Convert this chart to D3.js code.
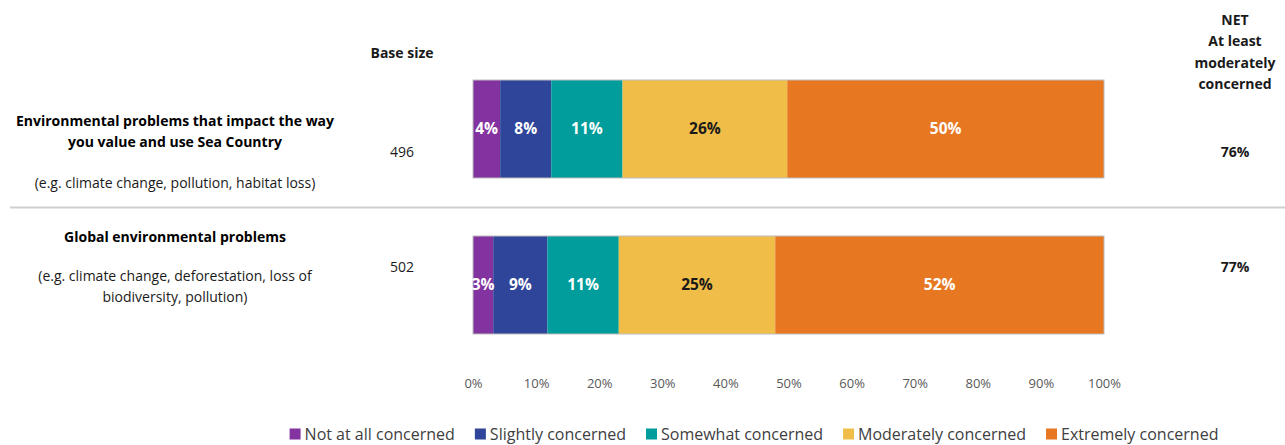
<!DOCTYPE html>
<html>
<head>
<meta charset="utf-8">
<script src="https://cdn.jsdelivr.net/npm/d3@7"></script>
<style>
  body { margin: 0; background: #fff; }
  svg { display: block; font-family: "Open Sans", Lato, sans-serif; }
</style>
</head>
<body>
<svg></svg>
<script>
// data
let categories = ["Not at all concerned", "Slightly concerned", "Somewhat concerned", "Moderately concerned", "Extremely concerned"]
let colors = ["#8233A0", "#2F4599", "#009D9C", "#F0BE48", "#E87722"]
let rowTitles = [
  ["Environmental problems that impact the way", "you value and use Sea Country"],
  ["Global environmental problems"]
]
let rowNotes = [
  ["(e.g. climate change, pollution, habitat loss)"],
  ["(e.g. climate change, deforestation, loss of", "biodiversity, pollution)"]
]
let baseSizes = [496, 502]
let row1 = [4.3, 8.1, 11.3, 26.1, 50.2]
let row2 = [3.2, 8.6, 11.3, 24.8, 52.1]
let netValues = [76, 77]
let tickValues = [0, 10, 20, 30, 40, 50, 60, 70, 80, 90, 100]

let rows = [row1, row2]

let width = 1285
let height = 445

let svg = d3.select('svg').attr("width", width).attr("height", height)

let xScale = d3.scaleLinear().domain([0, 100]).range([473, 1104])
let yScale = d3.scaleBand().domain([0, 1]).range([80, 334]).paddingInner(58 / 156).paddingOuter(0)

let fmt = d3.format(".0f")

// separator
svg.append("line")
  .attr("x1", 10).attr("x2", width)
  .attr("y1", 207.5).attr("y2", 207.5)
  .attr("stroke", "#d0d0d0").attr("stroke-width", 2)

// bars
rows.forEach((vals, r) => {
  let y0 = yScale(r)
  let bh = yScale.bandwidth()
  let cum = 0
  let segs = vals.map((v, i) => { let s = {start: cum, v: v, i: i}; cum += v; return s })

  let g = svg.append("g")
  g.selectAll("rect")
    .data(segs)
    .enter()
    .append("rect")
    .attr("x", d => xScale(d.start))
    .attr("width", d => xScale(d.start + d.v) - xScale(d.start))
    .attr("y", y0)
    .attr("height", bh)
    .attr("fill", d => colors[d.i])

  g.append("rect")
    .attr("x", xScale(0)).attr("y", y0)
    .attr("width", xScale(100) - xScale(0)).attr("height", bh)
    .attr("fill", "none").attr("stroke", "#bdbdbd").attr("stroke-width", 1)

  g.selectAll("text")
    .data(segs)
    .enter()
    .append("text")
    .attr("x", d => xScale(d.start + d.v / 2))
    .attr("y", y0 + bh / 2)
    .attr("dy", "0.35em")
    .attr("text-anchor", "middle")
    .attr("font-size", 15.5)
    .attr("font-weight", "bold")
    .attr("fill", d => d.i == 3 ? "#1a1a1a" : "#fff")
    .text(d => fmt(d.v) + "%")

  // base size
  svg.append("text")
    .attr("x", 402).attr("y", y0 + bh / 2 + (r == 0 ? 23 : -18))
    .attr("dy", "0.35em")
    .attr("text-anchor", "middle").attr("font-size", 14).attr("fill", "#1a1a1a")
    .text(baseSizes[r])

  // net
  svg.append("text")
    .attr("x", 1235).attr("y", y0 + bh / 2 + (r == 0 ? 23 : -18))
    .attr("dy", "0.35em")
    .attr("text-anchor", "middle").attr("font-size", 14).attr("font-weight", "bold").attr("fill", "#1a1a1a")
    .text(netValues[r] + "%")
})

// row labels
let titleY = [121, 237]
let noteY = [183, 276]
rowTitles.forEach((lines, r) => {
  lines.forEach((t, k) => {
    svg.append("text")
      .attr("x", 175).attr("y", titleY[r] + k * 21).attr("dy", "0.35em")
      .attr("text-anchor", "middle").attr("font-size", 14).attr("font-weight", "bold").attr("fill", "#000")
      .text(t)
  })
  rowNotes[r].forEach((t, k) => {
    svg.append("text")
      .attr("x", 175).attr("y", noteY[r] + k * 21).attr("dy", "0.35em")
      .attr("text-anchor", "middle").attr("font-size", 14).attr("fill", "#1a1a1a")
      .text(t)
  })
})

// headers
svg.append("text")
  .attr("x", 402).attr("y", 53).attr("dy", "0.35em")
  .attr("text-anchor", "middle").attr("font-size", 14).attr("font-weight", "bold").attr("fill", "#1a1a1a")
  .text("Base size")

let netHeader = ["NET", "At least", "moderately", "concerned"]
netHeader.forEach((t, k) => {
  svg.append("text")
    .attr("x", 1235).attr("y", 20 + k * 21.3).attr("dy", "0.35em")
    .attr("text-anchor", "middle").attr("font-size", 14).attr("font-weight", "bold").attr("fill", "#1a1a1a")
    .text(t)
})

// axis
let xAxis = d3.axisBottom(xScale).tickValues(tickValues).tickFormat(d => d + "%").tickSize(0).tickPadding(0)
let ax = svg.append("g").attr("transform", "translate(0,379)").call(xAxis)
ax.select(".domain").remove()
ax.selectAll("text").attr("font-size", 13).attr("fill", "#595959").attr("font-family", "'Open Sans', Lato, sans-serif")

// legend
let legend = svg.append("g")
let lx = 0
categories.forEach((c, i) => {
  let item = legend.append("g").attr("transform", "translate(" + lx + ",0)")
  item.append("rect").attr("x", 0).attr("y", -5.5).attr("width", 11).attr("height", 11).attr("fill", colors[i])
  let t = item.append("text").attr("x", 15).attr("dy", "0.35em").attr("font-size", 16).attr("fill", "#404040").text(c)
  lx += 15 + t.node().getComputedTextLength() + 20
})
let lw = lx - 20
legend.attr("transform", "translate(" + (754 - lw / 2) + ",434)")
</script>
</body>
</html>
